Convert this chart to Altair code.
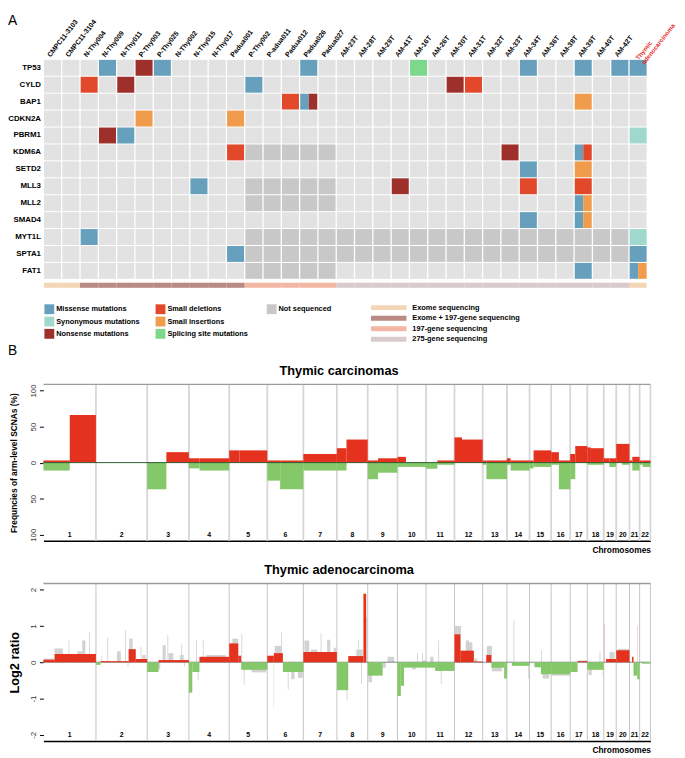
import altair as alt
import numpy as np
import pandas as pd

FONT = "Liberation Sans"
RED = "#e4321f"
GREEN = "#84c86a"

# ---------------- Panel A data ----------------
samples = ["CMPC11-3103", "CMPC11-3104", "N-Thy004", "N-Thy009", "N-Thy011", "P-Thy003",
           "P-Thy025", "N-Thy002", "N-Thy015", "N-Thy017", "Padua001", "P-Thy002",
           "P-adua011", "Padua012", "Padua026", "Padua027", "AM-23T", "AM-28T", "AM-29T",
           "AM-41T", "AM-16T", "AM-26T", "AM-30T", "AM-31T", "AM-32T", "AM-33T", "AM-34T",
           "AM-36T", "AM-38T", "AM-39T", "AM-40T", "AM-42T", "Thymic adenocarcinoma"]
genes = ["TP53", "CYLD", "BAP1", "CDKN2A", "PBRM1", "KDM6A", "SETD2", "MLL3", "MLL2",
         "SMAD4", "MYT1L", "SPTA1", "FAT1"]
seq_types = ["Exome sequencing", "Exome + 197-gene sequencing", "197-gene sequencing",
             "275-gene sequencing"]
seq_colors = ["#f3d6b6", "#b98983", "#f3b6a2", "#d9cbcb"]
sample_seq = [0, 0] + [1] * 9 + [2] * 5 + [3] * 16 + [0]
mut_types = ["Missense mutations", "Synonymous mutations", "Nonsense mutations",
             "Small deletions", "Small insertions", "Splicing site mutations", "Not sequenced"]
mut_colors = ["#66a0bd", "#9fd8cc", "#9e302c", "#e2492b", "#f19c4c", "#7cd88b", "#c8c8c8"]
WILD = "Wild type"
WILD_COLOR = "#e2e2e2"
# genes absent from a sequencing panel (by panel index)
not_sequenced = {"KDM6A": [2], "MLL3": [2], "MLL2": [2], "FAT1": [2],
                 "MYT1L": [2, 3], "SPTA1": [2, 3]}
mutations = [
    ("TP53", "N-Thy009", "Missense mutations"), ("TP53", "P-Thy003", "Nonsense mutations"),
    ("TP53", "P-Thy025", "Missense mutations"), ("TP53", "Padua026", "Missense mutations"),
    ("TP53", "AM-16T", "Splicing site mutations"), ("TP53", "AM-34T", "Missense mutations"),
    ("TP53", "AM-39T", "Missense mutations"), ("TP53", "AM-42T", "Missense mutations"),
    ("TP53", "Thymic adenocarcinoma", "Missense mutations"),
    ("CYLD", "N-Thy004", "Small deletions"), ("CYLD", "N-Thy011", "Nonsense mutations"),
    ("CYLD", "P-Thy002", "Missense mutations"), ("CYLD", "AM-30T", "Nonsense mutations"),
    ("CYLD", "AM-31T", "Small deletions"),
    ("BAP1", "Padua012", "Small deletions"), ("BAP1", "Padua026", "Missense mutations"),
    ("BAP1", "Padua026", "Nonsense mutations"), ("BAP1", "AM-39T", "Small insertions"),
    ("CDKN2A", "P-Thy003", "Small insertions"), ("CDKN2A", "Padua001", "Small insertions"),
    ("PBRM1", "N-Thy009", "Nonsense mutations"), ("PBRM1", "N-Thy011", "Missense mutations"),
    ("PBRM1", "Thymic adenocarcinoma", "Synonymous mutations"),
    ("KDM6A", "Padua001", "Small deletions"), ("KDM6A", "AM-33T", "Nonsense mutations"),
    ("KDM6A", "AM-39T", "Missense mutations"), ("KDM6A", "AM-39T", "Small deletions"),
    ("SETD2", "AM-34T", "Missense mutations"), ("SETD2", "AM-39T", "Small insertions"),
    ("MLL3", "N-Thy015", "Missense mutations"), ("MLL3", "AM-41T", "Nonsense mutations"),
    ("MLL3", "AM-34T", "Small deletions"), ("MLL3", "AM-39T", "Small deletions"),
    ("MLL2", "AM-39T", "Missense mutations"), ("MLL2", "AM-39T", "Small insertions"),
    ("SMAD4", "AM-34T", "Missense mutations"), ("SMAD4", "AM-39T", "Missense mutations"),
    ("SMAD4", "AM-39T", "Small insertions"),
    ("MYT1L", "N-Thy004", "Missense mutations"),
    ("MYT1L", "Thymic adenocarcinoma", "Synonymous mutations"),
    ("SPTA1", "Padua001", "Missense mutations"),
    ("SPTA1", "Thymic adenocarcinoma", "Missense mutations"),
    ("FAT1", "AM-39T", "Missense mutations"),
    ("FAT1", "Thymic adenocarcinoma", "Missense mutations"),
    ("FAT1", "Thymic adenocarcinoma", "Small insertions"),
]

# ---------------- Panel B data ----------------
chrom_names = [str(i) for i in range(1, 23)]
chrom_len = [249.3, 243.2, 198.0, 191.2, 180.9, 171.1, 159.1, 146.4, 141.2, 135.5, 135.0,
             133.9, 115.2, 107.3, 102.5, 90.4, 81.2, 78.1, 59.1, 63.0, 48.1, 51.3]
centromere = [125.0, 93.3, 91.0, 50.4, 48.4, 61.0, 59.9, 45.6, 49.0, 40.2, 53.7, 35.8,
              17.9, 17.6, 19.0, 36.6, 24.0, 17.2, 26.5, 27.5, 13.2, 14.7]
gain_p = [3, 0, 0, 6, 17, 3, 12, 20, 3, 8, 0, 35, 3, 6, 3, 14.5, 12, 21, 6, 26, 3, 3]
gain_q = [66, 0, 14.5, 6, 17, 3, 12, 32, 6, 0, 3, 32, 3, 3, 17, 3, 23, 20, 6, 26, 8, 3]
loss_p = [11, 0, 37, 8, 0, 25, 11, 11, 23, 6, 8.5, 0, 3, 3, 8, 3, 23, 3, 0, 0, 0, 3]
loss_q = [0, 0, 0, 11, 0, 37, 11, 0, 14, 6, 3, 0, 23, 11, 6, 37, 0, 3, 6, 3, 11, 6]

# thymic adenocarcinoma segments: (chromosome, start Mb, end Mb, log2 ratio)
seg_main = [
    (1, 0, 53, 0.07), (1, 53, 249.3, 0.23),
    (2, 0, 22, -0.07), (2, 22, 155, 0.03), (2, 155, 189, 0.36), (2, 189, 243.2, 0.09),
    (3, 0, 54, -0.27), (3, 54, 198, 0.06),
    (4, 0, 16, -0.84), (4, 16, 50, -0.27), (4, 50, 191.2, 0.15),
    (5, 0, 43, 0.52), (5, 43, 57, 0.18), (5, 57, 180.9, -0.21),
    (6, 0, 31, 0.18), (6, 31, 74, 0.25), (6, 74, 171.1, -0.27),
    (7, 0, 159.1, 0.28),
    (8, 0, 54, -0.77), (8, 54, 126, 0.17), (8, 126, 139, 1.89),
    (9, 0, 71, -0.37),
    (10, 0, 16, -0.93), (10, 16, 31, -0.65), (10, 31, 135.5, -0.15),
    (11, 0, 43, -0.15), (11, 43, 135, -0.24),
    (12, 0, 28, 0.77), (12, 28, 92, 0.32), (12, 92, 133.9, 0.02),
    (13, 17, 41, 0.2), (13, 41, 102, -0.15), (13, 102, 115.2, -0.45),
    (14, 23, 107.3, -0.1),
    (15, 23, 54, -0.14), (15, 54, 102.5, -0.33),
    (16, 0, 90.4, -0.33),
    (17, 0, 35, -0.27), (17, 35, 81.2, 0.03),
    (18, 0, 78.1, -0.21),
    (19, 11, 59.1, 0.09),
    (20, 0, 63, 0.33),
    (21, 12, 19, 0.15), (21, 19, 36.5, -0.37), (21, 36.5, 48.1, -0.47),
    (22, 11, 51.3, -0.04),
]
seg_gray = [
    (1, 0, 53, 0.1), (1, 53, 92, 0.38), (1, 119, 123, 0.6), (1, 161, 184, 0.3),
    (1, 184, 199, 0.6), (1, 216, 220, 0.82),
    (2, 26, 30, 0.18), (2, 54, 58, 0.68), (2, 100, 118, 0.3), (2, 138, 142, 0.88),
    (2, 150, 154, -0.12), (2, 158, 174, 0.65), (2, 212, 216, 0.42), (2, 220, 236, 0.2),
    (3, 46, 62, -0.2), (3, 73, 88, 0.47), (3, 96, 100, 0.75), (3, 101, 124, 0.25),
    (3, 155, 173, 0.2), (3, 162, 166, 0.48), (3, 175, 179, -0.12),
    (4, 34, 38, 0.62), (4, 42, 46, -0.5), (4, 66, 70, 0.62), (4, 82, 175, 0.2),
    (5, 15, 43, 0.65), (5, 58, 62, 0.78), (5, 69, 73, -0.62), (5, 107, 176, -0.28),
    (6, 35, 66, 0.45), (6, 66, 70, 0.82), (6, 97, 101, -0.75), (6, 113, 129, -0.47),
    (6, 145, 168, -0.43),
    (7, 5, 28, 0.6), (7, 35, 66, 0.35), (7, 82, 86, 0.8), (7, 113, 128, 0.62),
    (7, 144, 156, 0.4),
    (8, 46, 50, -1.05), (8, 92, 123, 0.35), (8, 100, 104, 0.6), (8, 115, 119, -0.6),
    (8, 139, 145, 1.25),
    (9, 3, 20, -0.55), (9, 71, 86, -0.15), (9, 94, 126, 0.15),
    (10, 70, 86, -0.2), (10, 93, 97, 0.25), (10, 117, 121, 0.25), (10, 120, 135, 0.05),
    (11, 20, 35, 0.15), (11, 58, 62, 0.6), (11, 70, 74, -0.6),
    (12, 0, 31, 1.0), (12, 54, 69, 0.6), (12, 69, 85, 0.55), (12, 92, 108, 0.1),
    (13, 20, 44, 0.45), (13, 44, 91, -0.25),
    (14, 31, 35, 1.15), (14, 101, 105, -0.45),
    (15, 54, 58, 0.33), (15, 62, 93, -0.45),
    (16, 0, 90, -0.37),
    (17, 35, 81, 0.05),
    (18, 6, 21, -0.35), (18, 58, 62, 0.3), (18, 73, 77, -0.4),
    (19, 27, 51, 0.28),
    (20, 8, 63, 0.37),
]
seg_pink = [(19, 2, 4.5, 1.05), (21, 36, 38, 1.0)]
seg_faint = [(6, 30, 32, -1.27)]

# ---------------- geometry / style ----------------
W = 617
CELL = 18.6
ROW = 17.2
HH = 286.9
H1 = 159
H2 = 160
XMAX = W / CELL
YMAX = HH / ROW
GAPX = 0.035
GAPY = 0.03

# ---------------- Panel A ----------------
cell_rows = []
for r, g in enumerate(genes):
    for i, s in enumerate(samples):
        muts = [t for (gg, ss, t) in mutations if gg == g and ss == s]
        if muts:
            n = len(muts)
            for k, t in enumerate(muts):
                a = i + GAPX + (1 - 2 * GAPX) * k / n
                b = i + GAPX + (1 - 2 * GAPX) * (k + 1) / n
                cell_rows.append(dict(t=t, x0=a, x1=b, y0=r + GAPY, y1=r + 1 - GAPY))
        else:
            t = "Not sequenced" if sample_seq[i] in not_sequenced.get(g, []) else WILD
            cell_rows.append(dict(t=t, x0=i + GAPX, x1=i + 1 - GAPX, y0=r + GAPY, y1=r + 1 - GAPY))
for i, s in enumerate(samples):
    cell_rows.append(dict(t=seq_types[sample_seq[i]],
                          x0=i + (GAPX if i == 0 else 0),
                          x1=i + 1 - (GAPX if i == len(samples) - 1 else 0),
                          y0=13.2, y1=13.5))
cells = pd.DataFrame(cell_rows)

color_dom = mut_types + [WILD] + seq_types
color_rng = mut_colors + [WILD_COLOR] + seq_colors

hx = alt.Scale(domain=[0, XMAX], nice=False, zero=False)
hy = alt.Scale(domain=[0, YMAX], nice=False, zero=False, reverse=True)

heat = alt.Chart(cells).mark_rect().encode(
    x=alt.X("x0:Q", scale=hx, axis=None), x2="x1:Q",
    y=alt.Y("y0:Q", scale=hy, axis=None), y2="y1:Q",
    color=alt.Color("t:N", scale=alt.Scale(domain=color_dom, range=color_rng), legend=None),
)

gene_df = pd.DataFrame({"g": genes, "ym": [r + 0.5 for r in range(len(genes))]})
gene_lab = alt.Chart(gene_df).mark_text(
    align="right", baseline="middle", font=FONT, fontSize=8, fontWeight="bold", color="black"
).encode(x=alt.value(-2.5), y=alt.Y("ym:Q", scale=hy, axis=None), text="g:N")

col_df = pd.DataFrame({"s": samples[:-1], "xm": [i + 0.3 for i in range(len(samples) - 1)]})
col_lab = alt.Chart(col_df).mark_text(
    align="left", baseline="middle", angle=308, font=FONT, fontSize=7, fontWeight="bold",
    color="black"
).encode(x=alt.X("xm:Q", scale=hx, axis=None), y=alt.value(-3), text="s:N")

last_df = pd.DataFrame({"xm": [len(samples) - 1 + 0.45]})
red_lab = alt.Chart(last_df).mark_text(
    text=samples[-1].split(" "), align="left", baseline="middle", angle=308, font=FONT,
    fontSize=6.4, fontWeight="bold", color="#e8281e", lineHeight=7.5
).encode(x=alt.X("xm:Q", scale=hx, axis=None), y=alt.value(0))

# legend (manual layout)
leg_rows = []
for k, t in enumerate(mut_types):
    col, row = k // 3, k % 3
    leg_rows.append(dict(label=t, c=mut_colors[k], sx=6 + col * 113, sy=254 + row * 12.5,
                         tx=13 + col * 113))
leg = pd.DataFrame(leg_rows)
leg_sq = alt.Chart(leg).mark_square(size=100, opacity=1).encode(
    x=alt.X("sx:Q", scale=None, axis=None), y=alt.Y("sy:Q", scale=None, axis=None),
    color=alt.Color("c:N", scale=None))
leg_tx = alt.Chart(leg).mark_text(
    align="left", baseline="middle", font=FONT, fontSize=7.5, fontWeight="bold", color="black"
).encode(x=alt.X("tx:Q", scale=None, axis=None), y=alt.Y("sy:Q", scale=None, axis=None),
         text="label:N")

seq_leg = pd.DataFrame({"label": seq_types, "c": seq_colors,
                        "x0": [333] * 4, "x1": [369] * 4, "tx": [375] * 4,
                        "sy": [252.4 + 10.7 * k for k in range(4)]})
seq_ln = alt.Chart(seq_leg).mark_rule(strokeWidth=5).encode(
    x=alt.X("x0:Q", scale=None, axis=None), x2="x1:Q",
    y=alt.Y("sy:Q", scale=None, axis=None), color=alt.Color("c:N", scale=None))
seq_tx = alt.Chart(seq_leg).mark_text(
    align="left", baseline="middle", font=FONT, fontSize=7.5, fontWeight="bold", color="black"
).encode(x=alt.X("tx:Q", scale=None, axis=None), y=alt.Y("sy:Q", scale=None, axis=None),
         text="label:N")

panel_labels = pd.DataFrame({"t": ["A", "B"], "px": [-36, -36], "py": [-46, 290]})
ab_lab = alt.Chart(panel_labels).mark_text(
    align="left", baseline="top", font=FONT, fontSize=14, color="black"
).encode(x=alt.X("px:Q", scale=None, axis=None), y=alt.Y("py:Q", scale=None, axis=None),
         text="t:N")

panel_a = alt.layer(heat, gene_lab, col_lab, red_lab, leg_sq, leg_tx, seq_ln, seq_tx, ab_lab
                    ).properties(width=W, height=HH)

# ---------------- Panel B helpers ----------------
starts = np.concatenate([[0.0], np.cumsum(chrom_len)[:-1]])
ends = starts + np.array(chrom_len)
G = float(ends[-1])
xs = alt.Scale(domain=[0, G], nice=False, zero=False)
one = pd.DataFrame({"z": [0]})

X_AXIS = alt.Axis(domain=True, domainColor="black", domainWidth=1.6, ticks=False,
                  labels=False, grid=False, title="Chromosomes", titleAnchor="end",
                  titleFont=FONT, titleFontSize=8.5, titleFontWeight="bold",
                  titleColor="black", titlePadding=5)


def y_axis(values, expr, title, tfs, tx, height):
    return alt.Axis(values=values, labelExpr=expr, labelAngle=270, labelAlign="center",
                    labelBaseline="bottom", labelFont=FONT, labelFontSize=8,
                    labelColor="#333333", labelPadding=2, tickSize=4, tickColor="black",
                    domain=False, grid=False, title=title, titleAngle=270, titleX=tx,
                    titleY=height / 2, titleAlign="center", titleBaseline="middle",
                    titleFont=FONT, titleFontSize=tfs, titleFontWeight="bold",
                    titleColor="black")


def frame_layers(ys, yax, height, lab_y, bcolor, bwidth):
    bnd = alt.Chart(pd.DataFrame({"bx": ends})).mark_rule(
        color=bcolor, strokeWidth=bwidth).encode(
        x=alt.X("bx:Q", scale=xs, axis=X_AXIS), y=alt.value(0), y2=alt.value(height))
    top = alt.Chart(one).mark_rule(color="#9c9c9c", strokeWidth=1.4).encode(
        x=alt.value(0), x2=alt.value(W), y=alt.value(0))
    labs = alt.Chart(pd.DataFrame({"name": chrom_names, "mid": (starts + ends) / 2,
                                   "ly": [lab_y] * 22})).mark_text(
        font=FONT, fontSize=7, fontWeight="bold", color="black", baseline="middle").encode(
        x=alt.X("mid:Q", scale=xs, axis=X_AXIS), y=alt.Y("ly:Q", scale=ys, axis=yax),
        text="name:N")
    return bnd, top, labs


# ---------------- Panel B top ----------------
arm_rows = []
for c in range(22):
    cen = starts[c] + centromere[c]
    arm_rows.append(dict(x0=starts[c], x1=cen, gain=gain_p[c], loss=-loss_p[c], zero=0))
    arm_rows.append(dict(x0=cen, x1=ends[c], gain=gain_q[c], loss=-loss_q[c], zero=0))
arms = pd.DataFrame(arm_rows)
ys1 = alt.Scale(domain=[-108.5, 108.5], nice=False, zero=False)
Y1_AXIS = y_axis([-100, -50, 0, 50, 100], "'' + abs(datum.value)",
                 "Frequncies of arm-level SCNAs (%)", 8.5, -30, H1)

bnd1, top1, labs1 = frame_layers(ys1, Y1_AXIS, H1, -100, "#d6d6d6", 1.8)
loss1 = alt.Chart(arms).transform_filter("datum.loss < 0").mark_rect(color=GREEN).encode(
    x=alt.X("x0:Q", scale=xs, axis=X_AXIS), x2="x1:Q",
    y=alt.Y("loss:Q", scale=ys1, axis=Y1_AXIS), y2="zero:Q")
gain1 = alt.Chart(arms).transform_filter("datum.gain > 0").mark_rect(color=RED).encode(
    x=alt.X("x0:Q", scale=xs, axis=X_AXIS), x2="x1:Q",
    y=alt.Y("gain:Q", scale=ys1, axis=Y1_AXIS), y2="zero:Q")
zero1 = alt.Chart(one).mark_rule(color="#2d5a2d", strokeWidth=1).encode(
    y=alt.Y("z:Q", scale=ys1, axis=Y1_AXIS), x=alt.value(0), x2=alt.value(W))

panel_b1 = alt.layer(bnd1, top1, loss1, gain1, zero1, labs1).properties(
    width=W, height=H1,
    title=alt.TitleParams("Thymic carcinomas", font=FONT, fontSize=13, fontWeight="bold",
                          anchor="middle", frame="group", dx=-8, offset=6, color="black"))


# ---------------- Panel B bottom ----------------
def seg_df(segs):
    return pd.DataFrame([dict(x0=starts[c - 1] + s, x1=starts[c - 1] + e, v=v, zero=0)
                         for (c, s, e, v) in segs])


ys2 = alt.Scale(domain=[-2.17, 2.17], nice=False, zero=False)
Y2_AXIS = y_axis([-2, -1, 0, 1, 2], "'' + datum.value", "Log2 ratio", 13, -29, H2)
bnd2, top2, labs2 = frame_layers(ys2, Y2_AXIS, H2, -2, "#c4c4c4", 1.0)


def seg_layer(df, color):
    return alt.Chart(df).mark_rect(color=color).encode(
        x=alt.X("x0:Q", scale=xs, axis=X_AXIS), x2="x1:Q",
        y=alt.Y("v:Q", scale=ys2, axis=Y2_AXIS), y2="zero:Q")


main = seg_df(seg_main)
gray2 = seg_layer(seg_df(seg_gray), "#d2d2d2")
pink2 = seg_layer(seg_df(seg_pink), "#f3a3a0")
faint2 = seg_layer(seg_df(seg_faint), "#bfe3b4")
zero2 = alt.Chart(one).mark_rule(color="#555555", strokeWidth=0.7).encode(
    y=alt.Y("z:Q", scale=ys2, axis=Y2_AXIS), x=alt.value(0), x2=alt.value(W))
red2 = seg_layer(main[main.v > 0], RED)
green2 = seg_layer(main[main.v < 0], GREEN)

panel_b2 = alt.layer(bnd2, top2, gray2, pink2, faint2, zero2, green2, red2, labs2).properties(
    width=W, height=H2,
    title=alt.TitleParams("Thymic adenocarcinoma", font=FONT, fontSize=13, fontWeight="bold",
                          anchor="middle", frame="group", dx=-8, offset=6, color="black"))

chart = alt.vconcat(panel_a, panel_b1, panel_b2, spacing=43.4, bounds="flush").properties(
    padding=0).configure_view(stroke=None)

chart.save("out.html", embed_options={"renderer": "svg", "actions": False})
